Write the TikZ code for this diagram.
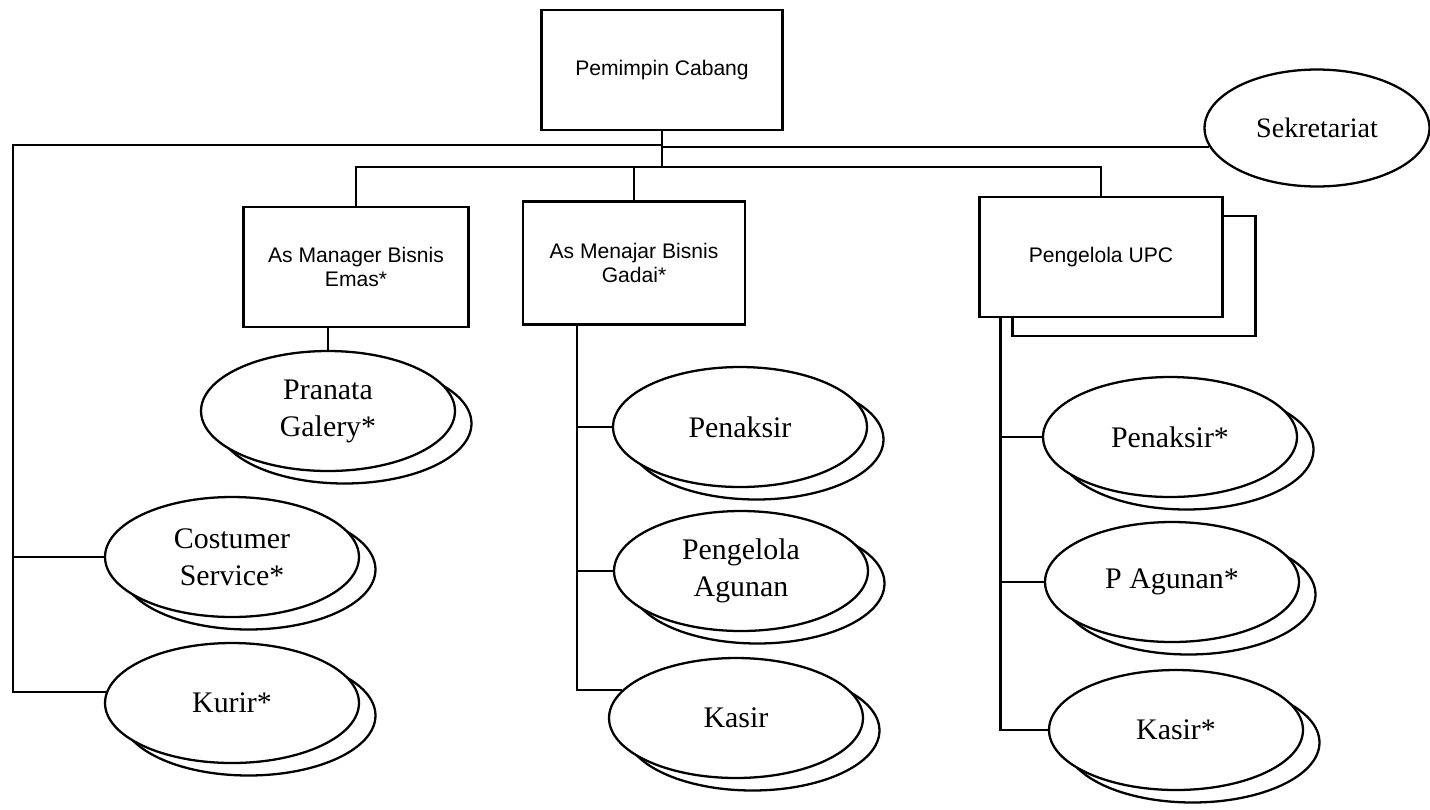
\documentclass[tikz,border=0pt]{standalone}
\usepackage{fontspec}
\setmainfont{Liberation Serif}
\setsansfont{Liberation Sans}
\usepackage{tikz}
\usetikzlibrary{shapes,positioning,calc,shadows}

\begin{document}
\begin{tikzpicture}[x=0.02cm, y=-0.02cm, line width=1.3pt,
	post/.style={draw, rectangle, fill=white, minimum width=4.5cm, minimum height=2.4cm,
		align=center, font=\sffamily\fontsize{12}{14}\selectfont},
	staff/.style={draw, ellipse, fill=white, minimum width=5.08cm, minimum height=2.4cm,
		inner sep=0pt, align=center, font=\fontsize{17}{21}\selectfont,
		copy shadow={shadow xshift=0.33cm, shadow yshift=-0.25cm, draw=black, fill=white}}]
\useasboundingbox (0,0) rectangle (1430,809);

% The leader of the branch and the secretariat beside him.
\node[post, minimum width=4.82cm] (boss) at (662,70) {Pemimpin Cabang};
\node[draw, ellipse, minimum width=4.5cm, minimum height=2.34cm,
	font=\fontsize{16}{19}\selectfont] (sekr) at (1317,128) {Sekretariat};

% The three heads under the leader (the UPC box has a copy behind it).
\node[post] (emas) at (356,267) {As Manager Bisnis\\Emas*};
\node[post, minimum width=4.44cm, minimum height=2.46cm] (gadai) at (634,263) {As Menajar Bisnis\\Gadai*};
\node[post, minimum width=4.86cm,
	copy shadow={shadow xshift=0.66cm, shadow yshift=-0.38cm, draw=black, fill=white}]
	(upc) at (1101,257) {Pengelola UPC};

% The staff, each one drawn as an ellipse with a second one behind it.
\foreach \name/\x/\y/\text in {pranata/328/411/{Pranata\\Galery*}, cs/232/557/{Costumer\\Service*},
		kurir/232/703/{Kurir*}, penaksir/740/427/{Penaksir}, agunan/741/571/{Pengelola\\Agunan},
		kasir/736/718/{Kasir}, penaksirU/1170/437/{Penaksir*}, agunanU/1172/582/{P Agunan*},
		kasirU/1176/730/{Kasir*}}
	\node[staff] (\name) at (\x,\y) {\text};

% Lines from the leader: one to the secretariat and the left column,
% and a bus down to the three heads.
\coordinate (corner) at (13,145);
\coordinate (bus) at (0,167);
\draw (boss.south) -- (boss.south |- bus);
\draw (sekr.190) -- (sekr.190 -| boss.south);
\draw (boss.south |- corner) -- (corner) |- (kurir.175);
\draw (cs.west) -- (cs.west -| corner);
\draw (emas.north) |- (upc.north |- bus) -- (upc.north);
\draw (gadai.north) -- (gadai.north |- bus);

% Emas
\draw (pranata.north) -- (pranata.north |- emas.south);

% Gadai
\coordinate (gadaiT) at ($(gadai.south west)+(55,0)$);
\draw (gadaiT) |- (kasir.166);
\foreach \n in {penaksir, agunan}
	\draw (\n.west) -- (\n.west -| gadaiT);

% UPC
\coordinate (upcT) at ($(upc.south west)+(22,0)$);
\draw (upcT) |- (kasirU.west);
\foreach \n in {penaksirU, agunanU}
	\draw (\n.west) -- (\n.west -| upcT);
\end{tikzpicture}
\end{document}
